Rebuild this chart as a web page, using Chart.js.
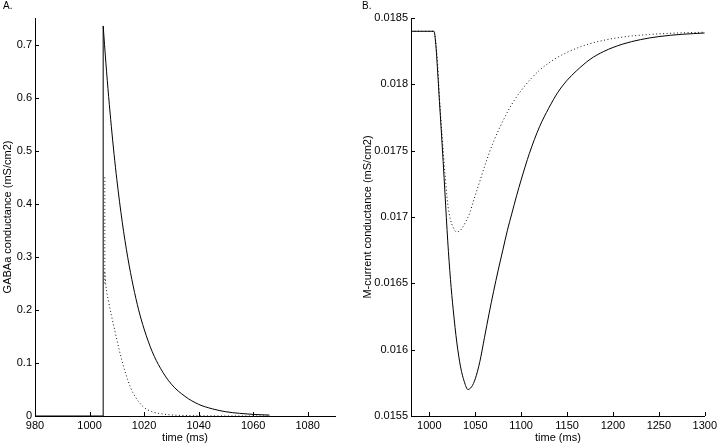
<!DOCTYPE html>
<html>
<head>
    <title>GABAa and M-current conductance</title>
    <script src="https://cdn.jsdelivr.net/npm/chart.js"></script>
    <style>
        body { margin: 0; background: #fff; }
        .panel { position: absolute; top: 0; width: 360px; height: 446px; }
        .tag { position: absolute; top: 0; font: 10px "Liberation Sans", Arial, sans-serif; color: #000; }
    </style>
</head>
<body>
    <div class="panel" style="left:0"><canvas id="chartA" width="360" height="446"></canvas></div>
    <div class="panel" style="left:360px"><canvas id="chartB" width="360" height="446"></canvas></div>
    <div class="tag" style="left:3px">A.</div>
    <div class="tag" style="left:362px">B.</div>
    <script>
        // Panel A: GABAa conductance
        var timeStepA = [980, 1005, 1005];
        var gabaStepA = [0, 0, 0.735];
        var timeSolidA = [1005, 1006, 1007, 1008, 1009, 1010, 1012, 1014, 1016, 1018, 1020, 1023, 1026, 1030, 1035, 1040, 1045, 1050, 1055, 1060, 1066];
        var gabaSolidA = [0.735, 0.665, 0.602, 0.545, 0.493, 0.446, 0.365, 0.299, 0.245, 0.200, 0.164, 0.121, 0.090, 0.060, 0.037, 0.022, 0.0135, 0.008, 0.005, 0.003, 0.0017];
        var timeDotStepA = [1005.6, 1005.6];
        var gabaDotStepA = [0.25, 0.45];
        var timeDotA = [1005.6, 1006, 1007, 1008, 1009, 1010, 1011, 1012, 1013, 1014, 1015, 1016, 1018, 1020, 1023, 1026, 1030, 1035, 1040, 1050, 1066];
        var gabaDotA = [0.27, 0.245, 0.215, 0.19, 0.167, 0.144, 0.122, 0.102, 0.084, 0.068, 0.054, 0.043, 0.027, 0.016, 0.008, 0.0045, 0.002, 0.0009, 0.0004, 0.0001, 0];
        var xTicksA = [980, 1000, 1020, 1040, 1060, 1080];
        var yTicksA = [0, 0.1, 0.2, 0.3, 0.4, 0.5, 0.6, 0.7];

        // Panel B: M-current conductance
        var timeSolidB = [980, 1005, 1007, 1009, 1011, 1013, 1015, 1017, 1020, 1023, 1026, 1030, 1034, 1038, 1042, 1046, 1050, 1055, 1060, 1065, 1070, 1075, 1080, 1085, 1090, 1095, 1100, 1109, 1120, 1130, 1140, 1150, 1160, 1175, 1190, 1210, 1230, 1250, 1275, 1300];
        var mSolidB = [0.0184, 0.0184, 0.0183, 0.0181, 0.01787, 0.01765, 0.01742, 0.01718, 0.01682, 0.01653, 0.0163, 0.01605, 0.01587, 0.01576, 0.0157, 0.01572, 0.01578, 0.01591, 0.01609, 0.01627, 0.01644, 0.0166, 0.01675, 0.0169, 0.01703, 0.01716, 0.01728, 0.01748, 0.01768, 0.01782, 0.01794, 0.01803, 0.0181, 0.018188, 0.018248, 0.018302, 0.018337, 0.01836, 0.018377, 0.018387];
        var timeDotB = [980, 1005, 1007, 1009, 1011, 1014, 1017, 1020, 1023, 1026, 1029, 1032, 1036, 1040, 1044, 1048, 1055, 1062, 1070, 1080, 1090, 1100, 1110, 1120, 1135, 1150, 1170, 1190, 1210, 1240, 1270, 1300];
        var mDotB = [0.0184, 0.0184, 0.01832, 0.01815, 0.0179, 0.0176, 0.01733, 0.0171, 0.01698, 0.01692, 0.01689, 0.01689, 0.01692, 0.01697, 0.01703, 0.01712, 0.01727, 0.01742, 0.01757, 0.017722, 0.017852, 0.017953, 0.018037, 0.018106, 0.018184, 0.018241, 0.018296, 0.018332, 0.018356, 0.018376, 0.018387, 0.018393];
        var xTicksB = [1000, 1050, 1100, 1150, 1200, 1250, 1300];
        var yTicksB = [0.0155, 0.016, 0.0165, 0.017, 0.0175, 0.018, 0.0185];

        var FONT = { family: '"Liberation Sans", Arial, sans-serif', size: 11 };

        function pts(xs, ys) {
            return xs.map(function (x, i) { return { x: x, y: ys[i] }; });
        }
        function fmt(v) { return String(Number(v.toFixed(4))); }

        function solid(data, smooth) {
            return { data: data, borderColor: '#000', borderWidth: 1, pointRadius: 0, fill: false,
                     cubicInterpolationMode: smooth ? 'monotone' : 'default', tension: 0 };
        }
        function dotted(data, smooth) {
            var d = solid(data, smooth);
            d.borderDash = [1, 2.5];
            d.borderColor = '#111';
            return d;
        }

        // MATLAB style ticks pointing into the plot
        var innerTicks = {
            id: 'innerTicks',
            afterDraw: function (chart) {
                var c = chart.ctx, a = chart.chartArea;
                var xs = chart.scales.x, ys = chart.scales.y;
                c.save();
                c.strokeStyle = '#000';
                c.lineWidth = 1;
                c.beginPath();
                xs.ticks.forEach(function (t) {
                    var px = Math.round(xs.getPixelForValue(t.value)) + 0.5;
                    c.moveTo(px, a.bottom); c.lineTo(px, a.bottom - 4);
                });
                ys.ticks.forEach(function (t) {
                    var py = Math.round(ys.getPixelForValue(t.value)) + 0.5;
                    c.moveTo(a.left, py); c.lineTo(a.left + 4, py);
                });
                c.stroke();
                c.restore();
            }
        };

        function makeChart(id, datasets, xr, yr, xTicks, yTicks, yTitle, yWidth) {
            new Chart(document.getElementById(id), {
                type: 'line',
                data: { datasets: datasets },
                plugins: [innerTicks],
                options: {
                    responsive: false,
                    animation: false,
                    layout: { padding: { top: 18, right: 360 - xr.right, left: 0, bottom: 0 } },
                    plugins: { legend: { display: false }, tooltip: { enabled: false } },
                    scales: {
                        x: {
                            type: 'linear', min: xr.min, max: xr.max,
                            afterBuildTicks: function (s) { s.ticks = xTicks.map(function (v) { return { value: v }; }); },
                            afterFit: function (s) { s.height = 30; },
                            grid: { drawOnChartArea: false, drawTicks: false },
                            border: { color: '#000', width: 1 },
                            ticks: { color: '#000', font: FONT, padding: 3, maxRotation: 0, callback: function (v) { return fmt(v); } },
                            title: { display: true, text: 'time (ms)', color: '#000', font: FONT, padding: { top: 0, bottom: 1 } }
                        },
                        y: {
                            type: 'linear', min: yr.min, max: yr.max,
                            afterBuildTicks: function (s) { s.ticks = yTicks.map(function (v) { return { value: v }; }); },
                            afterFit: function (s) { s.width = yWidth; },
                            grid: { drawOnChartArea: false, drawTicks: false },
                            border: { color: '#000', width: 1 },
                            ticks: { color: '#000', font: FONT, padding: 3, callback: function (v) { return fmt(v); } },
                            title: { display: true, text: yTitle, color: '#000', font: FONT, padding: { top: 1, bottom: 0 } }
                        }
                    }
                }
            });
        }

        makeChart('chartA', [
            solid(pts(timeStepA, gabaStepA), false),
            solid(pts(timeSolidA, gabaSolidA), true),
            dotted(pts(timeDotStepA, gabaDotStepA), false),
            dotted(pts(timeDotA, gabaDotA), true)
        ], { min: 980, max: 1090, right: 335 }, { min: 0, max: 0.75 }, xTicksA, yTicksA,
            'GABAa conductance (mS/cm2)', 35);

        makeChart('chartB', [
            solid(pts(timeSolidB, mSolidB), true),
            dotted(pts(timeDotB, mDotB), true)
        ], { min: 980, max: 1300, right: 349 }, { min: 0.0155, max: 0.0185 }, xTicksB, yTicksB,
            'M-current conductance (mS/cm2)', 51);
    </script>
</body>
</html>
